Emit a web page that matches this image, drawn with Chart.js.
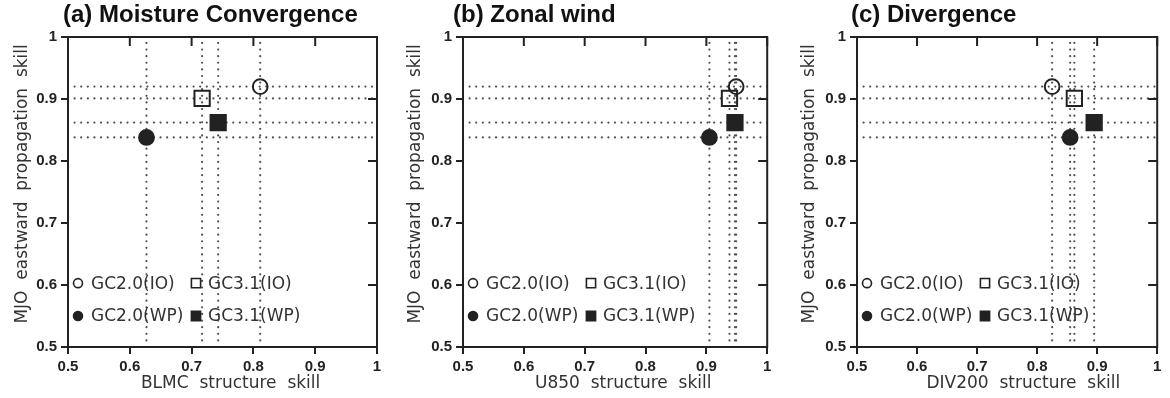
<!DOCTYPE html>
<html>
<head>
<meta charset="utf-8">
<script src="https://cdn.jsdelivr.net/npm/chart.js"></script>
<style>
  body { margin: 0; background: #fff; }
  #wrap { position: relative; width: 1170px; height: 398px; overflow: hidden; }
  .panel { position: absolute; top: 0; width: 390px; height: 398px; }
  .title { position: absolute; top: 0px; font: bold 24px "Liberation Sans", Arial, sans-serif; color: #111; white-space: nowrap; }
</style>
</head>
<body>
<div id="wrap">
  <div class="panel" style="left:0px"><canvas id="chartA" width="390" height="398"></canvas></div>
  <div class="panel" style="left:390px"><canvas id="chartB" width="390" height="398"></canvas></div>
  <div class="panel" style="left:780px"><canvas id="chartC" width="390" height="398"></canvas></div>
  <div class="title" style="left:63px">(a) Moisture Convergence</div>
  <div class="title" style="left:453px">(b) Zonal wind</div>
  <div class="title" style="left:851px">(c) Divergence</div>
</div>
<script>
// series (same order in every panel)
var seriesLabels = ["GC2.0(IO)", "GC3.1(IO)", "GC2.0(WP)", "GC3.1(WP)"];
var seriesShapes = ["circle", "rect", "circle", "rect"];
var seriesFilled = [false, false, true, true];

// y: MJO eastward propagation skill
var propagationSkill = [0.920, 0.901, 0.838, 0.862];

// x: structure skill per panel
var blmcSkill = [0.811, 0.717, 0.627, 0.743];
var u850Skill = [0.949, 0.938, 0.905, 0.947];
var div200Skill = [0.825, 0.862, 0.855, 0.895];

var tickLabels = ["0.5", "0.6", "0.7", "0.8", "0.9", "1"];

var ink = "#222";
Chart.defaults.font.family = '"DejaVu Sans", sans-serif';
Chart.defaults.color = ink;

// frame on top/right with inward ticks
var framePlugin = {
    id: "frame",
    afterDatasetsDraw: function (chart) {
        var ctx = chart.ctx, a = chart.chartArea;
        var xs = chart.scales.x, ys = chart.scales.y;
        ctx.save();
        ctx.strokeStyle = ink;
        ctx.lineWidth = 2;
        ctx.strokeRect(a.left, a.top, a.right - a.left, a.bottom - a.top);
        ctx.beginPath();
        for (var i = 0; i < xs.ticks.length; i++) {
            var px = xs.getPixelForTick(i);
            ctx.moveTo(px, a.top);
            ctx.lineTo(px, a.top + 9);
        }
        for (var j = 0; j < ys.ticks.length; j++) {
            var py = ys.getPixelForTick(j);
            ctx.moveTo(a.right, py);
            ctx.lineTo(a.right - 9, py);
        }
        ctx.stroke();
        ctx.restore();
    }
};

// legend drawn inside the plot, two columns
var innerLegend = {
    id: "innerLegend",
    afterDraw: function (chart) {
        var ctx = chart.ctx, a = chart.chartArea;
        var h = a.bottom - a.top;
        ctx.save();
        ctx.font = '17px "DejaVu Sans", sans-serif';
        ctx.textBaseline = "middle";
        ctx.textAlign = "left";
        for (var i = 0; i < seriesLabels.length; i++) {
            var col = i % 2, row = Math.floor(i / 2);
            var y = a.top + h * (row ? 0.9 : 0.794);
            var sx = a.left + (col ? 128 : 10);
            var tx = a.left + (col ? 140 : 23);
            ctx.fillStyle = seriesFilled[i] ? ink : "rgba(0,0,0,0)";
            ctx.strokeStyle = ink;
            ctx.lineWidth = 1.6;
            Chart.helpers.drawPoint(ctx, {
                pointStyle: seriesShapes[i],
                radius: seriesShapes[i] === "rect" ? 6.5 : 4.5,
                borderWidth: 1.6,
                rotation: 0
            }, sx, y);
            ctx.fillStyle = "#333";
            ctx.fillText(seriesLabels[i], tx, y + 1);
        }
        ctx.restore();
    }
};

function buildDatasets(xValues) {
    var sets = [];
    for (var i = 0; i < seriesLabels.length; i++) {
        sets.push({
            label: seriesLabels[i],
            data: [{ x: xValues[i], y: propagationSkill[i] }],
            pointStyle: seriesShapes[i],
            pointRadius: seriesShapes[i] === "rect" ? 10.8 : 7.4,
            pointBorderWidth: 2,
            pointBorderColor: ink,
            pointBackgroundColor: seriesFilled[i] ? ink : "rgba(0,0,0,0)",
            order: 0
        });
    }
    // dotted guide lines through every point
    for (var k = 0; k < seriesLabels.length; k++) {
        var guide = {
            showLine: true,
            borderColor: "#505050",
            borderWidth: 2.2,
            borderDash: [0.01, 6.6],
            borderCapStyle: "round",
            pointRadius: 0,
            order: 1
        };
        sets.push(Object.assign({ data: [{ x: xValues[k], y: 0.5 }, { x: xValues[k], y: 1 }] }, guide));
        sets.push(Object.assign({ data: [{ x: 0.5, y: propagationSkill[k] }, { x: 1, y: propagationSkill[k] }] }, guide));
    }
    return sets;
}

function setupPanel(canvasId, xValues, xTitle, pad) {
    var canvas = document.getElementById(canvasId);
    var tickFont = { family: '"Liberation Sans", Arial, sans-serif', size: 15, weight: "bold" };
    var titleFont = { family: '"DejaVu Sans", sans-serif', size: 17 };
    new Chart(canvas, {
        type: "scatter",
        data: { datasets: buildDatasets(xValues) },
        options: {
            responsive: false,
            animation: false,
            layout: { padding: { left: pad.left, right: pad.right, top: 37, bottom: 0 } },
            plugins: { legend: { display: false }, tooltip: { enabled: false } },
            scales: {
                x: {
                    type: "linear",
                    min: 0.5, max: 1,
                    afterFit: function (s) { s.height = 51; },
                    ticks: {
                        stepSize: 0.1, padding: 4, maxRotation: 0, color: ink, font: tickFont,
                        callback: function (v, i) { return tickLabels[i]; }
                    },
                    grid: { drawOnChartArea: false, tickLength: 7, lineWidth: 2, color: ink },
                    border: { width: 2, color: ink },
                    title: { display: true, text: xTitle, color: "#333", font: titleFont, padding: { top: 4, bottom: 4 } }
                },
                y: {
                    type: "linear",
                    min: 0.5, max: 1,
                    afterFit: function (s) { s.width = pad.axis; },
                    ticks: {
                        stepSize: 0.1, padding: 4, color: ink, font: tickFont,
                        callback: function (v, i) { return tickLabels[i]; }
                    },
                    grid: { drawOnChartArea: false, tickLength: 7, lineWidth: 2, color: ink },
                    border: { width: 2, color: ink },
                    title: { display: true, text: "   MJO  eastward  propagation  skill", color: "#333", font: titleFont, padding: { top: 4, bottom: 4 } }
                }
            }
        },
        plugins: [framePlugin, innerLegend]
    });
}

setupPanel("chartA", blmcSkill, "   BLMC  structure  skill", { left: 8, axis: 60, right: 13 });
setupPanel("chartB", u850Skill, "   U850  structure  skill", { left: 11, axis: 62, right: 11 });
setupPanel("chartC", div200Skill, "      DIV200  structure  skill", { left: 15, axis: 62, right: 7 });
</script>
</body>
</html>
